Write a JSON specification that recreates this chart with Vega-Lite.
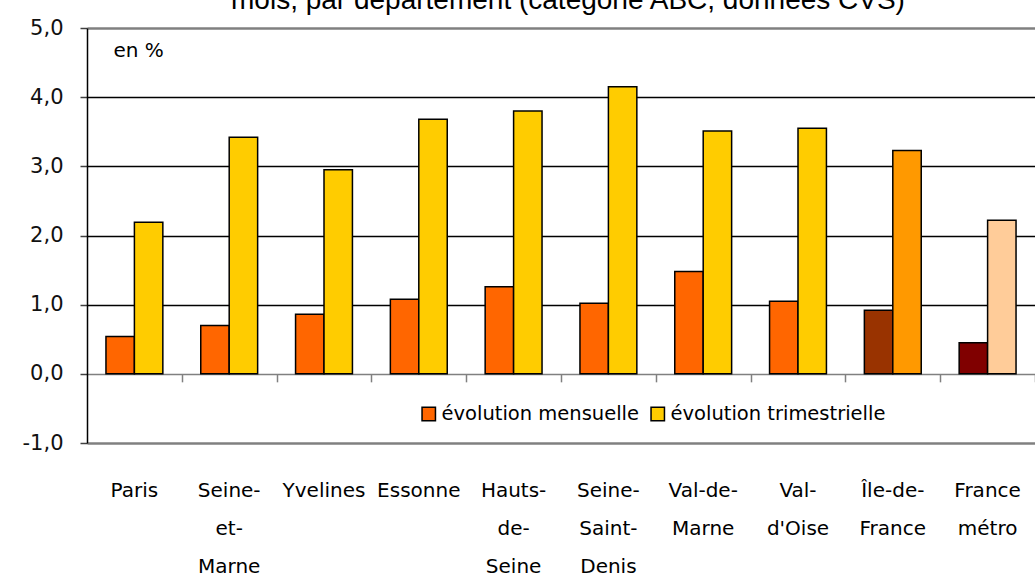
{
  "$schema": "https://vega.github.io/schema/vega-lite/v6.json",
  "width": 948,
  "height": 415,
  "autosize": {"type": "none"},
  "padding": {"left": 87, "top": 28, "right": 0, "bottom": 134},
  "background": "white",
  "title": {
    "text": "mois, par département (catégorie ABC, données CVS)",
    "anchor": "middle",
    "frame": "group",
    "dx": 7,
    "dy": 26,
    "font": "Liberation Sans",
    "fontSize": 28,
    "fontWeight": "normal",
    "color": "black",
    "baseline": "alphabetic",
    "offset": 6
  },
  "data": {
    "values": [
      {"zone": "Paris", "serie": "évolution mensuelle", "valeur": 0.54},
      {"zone": "Paris", "serie": "évolution trimestrielle", "valeur": 2.19},
      {"zone": "Seine-et-Marne", "serie": "évolution mensuelle", "valeur": 0.70},
      {"zone": "Seine-et-Marne", "serie": "évolution trimestrielle", "valeur": 3.42},
      {"zone": "Yvelines", "serie": "évolution mensuelle", "valeur": 0.86},
      {"zone": "Yvelines", "serie": "évolution trimestrielle", "valeur": 2.95},
      {"zone": "Essonne", "serie": "évolution mensuelle", "valeur": 1.08},
      {"zone": "Essonne", "serie": "évolution trimestrielle", "valeur": 3.68},
      {"zone": "Hauts-de-Seine", "serie": "évolution mensuelle", "valeur": 1.26},
      {"zone": "Hauts-de-Seine", "serie": "évolution trimestrielle", "valeur": 3.80},
      {"zone": "Seine-Saint-Denis", "serie": "évolution mensuelle", "valeur": 1.02},
      {"zone": "Seine-Saint-Denis", "serie": "évolution trimestrielle", "valeur": 4.15},
      {"zone": "Val-de-Marne", "serie": "évolution mensuelle", "valeur": 1.48},
      {"zone": "Val-de-Marne", "serie": "évolution trimestrielle", "valeur": 3.51},
      {"zone": "Val-d'Oise", "serie": "évolution mensuelle", "valeur": 1.05},
      {"zone": "Val-d'Oise", "serie": "évolution trimestrielle", "valeur": 3.55},
      {"zone": "Île-de-France", "serie": "évolution mensuelle", "valeur": 0.92},
      {"zone": "Île-de-France", "serie": "évolution trimestrielle", "valeur": 3.23},
      {"zone": "France métro", "serie": "évolution mensuelle", "valeur": 0.45},
      {"zone": "France métro", "serie": "évolution trimestrielle", "valeur": 2.22}
    ]
  },
  "transform": [
    {"calculate": "datum.zone === 'Île-de-France' || datum.zone === 'France métro' ? datum.zone + ' – ' + datum.serie : datum.serie", "as": "couleur"}
  ],
  "layer": [
    {
      "mark": {"type": "bar", "stroke": "black", "strokeWidth": 1.5},
      "encoding": {
        "x": {
          "field": "zone",
          "type": "nominal",
          "sort": null,
          "scale": {"paddingInner": 0.4, "paddingOuter": 0.2},
          "axis": {
            "orient": "bottom",
            "title": null,
            "domain": false,
            "ticks": false,
            "grid": false,
            "labelAngle": 0,
            "labelAlign": "center",
            "labelBaseline": "top",
            "labelPadding": 37,
            "labelFont": "DejaVu Sans",
            "labelFontSize": 20,
            "labelColor": "black",
            "labelLineHeight": 38,
            "labelOverlap": false,
            "labelLimit": 300,
            "labelExpr": "{\"Seine-et-Marne\": [\"Seine-\", \"et-\", \"Marne\"], \"Hauts-de-Seine\": [\"Hauts-\", \"de-\", \"Seine\"], \"Seine-Saint-Denis\": [\"Seine-\", \"Saint-\", \"Denis\"], \"Val-de-Marne\": [\"Val-de-\", \"Marne\"], \"Val-d'Oise\": [\"Val-\", \"d'Oise\"], \"Île-de-France\": [\"Île-de-\", \"France\"], \"France métro\": [\"France\", \"métro\"]}[datum.label] || datum.label"
          }
        },
        "xOffset": {"field": "serie", "type": "nominal", "sort": ["évolution mensuelle", "évolution trimestrielle"]},
        "y": {
          "field": "valeur",
          "type": "quantitative",
          "scale": {"domain": [-1, 5], "nice": false, "zero": false},
          "axis": {
            "orient": "left",
            "values": [-1, 0, 1, 2, 3, 4, 5],
            "labelExpr": "replace(replace(format(datum.value, '.1f'), '.', ','), '−', '-')",
            "tickSize": 7,
            "tickColor": "#404040",
            "tickWidth": 1.5,
            "domainColor": "black",
            "domainWidth": 1.5,
            "labelFont": "DejaVu Sans",
            "labelFontSize": 21,
            "labelColor": "#111111",
            "labelPadding": 17,
            "grid": true,
            "gridColor": {"condition": {"test": "datum.value === 0 || datum.value === 5 || datum.value === -1", "value": "#808080"}, "value": "black"},
            "gridWidth": {"condition": {"test": "datum.value === 5 || datum.value === -1", "value": 2.5}, "value": 1.5},
            "gridOpacity": 1,
            "title": "en %",
            "titleAngle": 0,
            "titleAlign": "left",
            "titleBaseline": "middle",
            "titleX": 26,
            "titleY": 22,
            "titleFont": "DejaVu Sans",
            "titleFontSize": 20,
            "titleFontWeight": "normal",
            "titleColor": "black"
          }
        },
        "color": {
          "field": "couleur",
          "type": "nominal",
          "scale": {
            "domain": ["évolution mensuelle", "évolution trimestrielle", "Île-de-France – évolution mensuelle", "Île-de-France – évolution trimestrielle", "France métro – évolution mensuelle", "France métro – évolution trimestrielle"],
            "range": ["#FF6600", "#FFCC00", "#993300", "#FF9900", "#800000", "#FFCC99"]
          },
          "legend": {
            "values": ["évolution mensuelle", "évolution trimestrielle"],
            "title": null,
            "orient": "none",
            "legendX": 332,
            "legendY": 376,
            "direction": "horizontal",
            "padding": 0,
            "symbolType": "square",
            "symbolSize": 180,
            "symbolStrokeColor": "black",
            "symbolStrokeWidth": 1.5,
            "symbolOpacity": 1,
            "labelFont": "DejaVu Sans",
            "labelFontSize": 19.5,
            "labelColor": "black",
            "labelOffset": 3,
            "columnPadding": 9,
            "labelLimit": 400
          }
        }
      }
    },
    {
      "mark": {"type": "bar", "opacity": 0},
      "encoding": {
        "x": {
          "field": "zone",
          "type": "nominal",
          "sort": null,
          "axis": {
            "orient": "top",
            "offset": -345.83,
            "title": null,
            "labels": false,
            "domain": false,
            "grid": false,
            "ticks": true,
            "bandPosition": 1,
            "tickOffset": 19,
            "tickSize": -8,
            "tickColor": "#808080",
            "tickWidth": 1.5
          }
        },
        "y": {"datum": 0, "type": "quantitative"}
      }
    }
  ],
  "resolve": {"axis": {"x": "independent"}},
  "config": {"view": {"stroke": null}, "font": "DejaVu Sans"}
}
